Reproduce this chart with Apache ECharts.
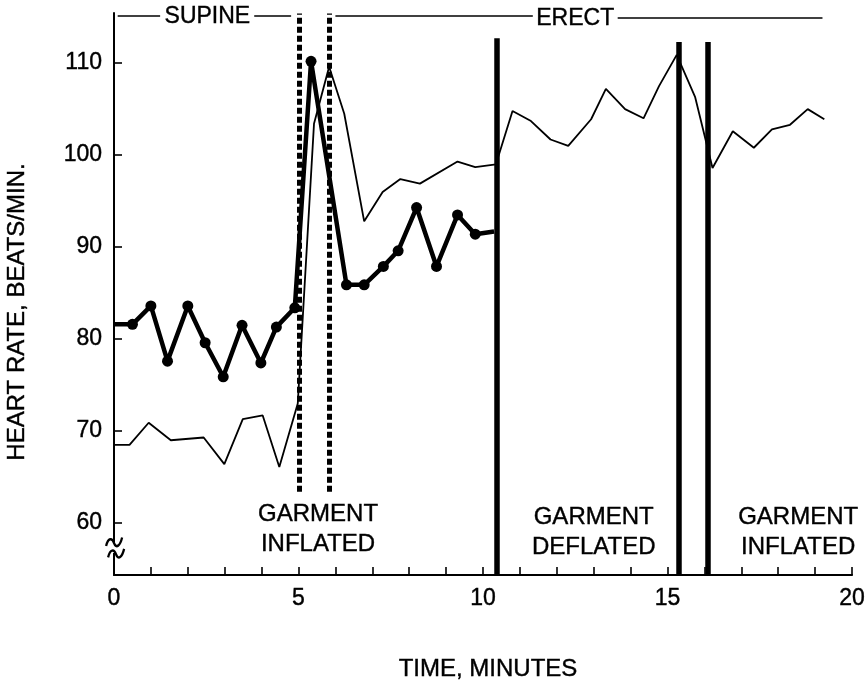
<!DOCTYPE html>
<html>
<head>
<meta charset="utf-8">
<script src="https://cdn.jsdelivr.net/npm/echarts@6/dist/echarts.min.js"></script>
<style>
  html, body { margin: 0; padding: 0; background: #fff; }
  #chart { width: 868px; height: 684px; }
</style>
</head>
<body>
<div id="chart"></div>
<script>
const FONT = '"Liberation Sans", Arial, Helvetica, sans-serif';

// Heavy line with dots: time (minutes) and heart rate (beats/min)
const heavyTimes = [0, 0.5, 1.0, 1.45, 2.0, 2.47, 2.96, 3.47, 3.98, 4.4, 4.9, 5.34,
                    6.3, 6.78, 7.3, 7.7, 8.2, 8.74, 9.31, 9.79, 10.3];
const heavyRates = [81.6, 81.6, 83.6, 77.6, 83.6, 79.6, 75.9, 81.5, 77.4, 81.3, 83.4, 110.2,
                    85.9, 85.9, 87.9, 89.6, 94.3, 87.9, 93.5, 91.4, 91.7];

// Thin line: time (minutes) and heart rate (beats/min)
const thinTimes = [0, 0.42, 0.94, 1.54, 2.43, 2.99, 3.49, 4.03, 4.48, 4.98, 5.42, 5.83,
                   6.24, 6.78, 7.28, 7.76, 8.29, 9.31, 9.79, 10.35, 10.8, 11.3, 11.83,
                   12.31, 12.93, 13.33, 13.85, 14.35, 14.77, 15.25, 15.75, 16.22, 16.77,
                   17.34, 17.83, 18.32, 18.8, 19.25];
const thinRates = [68.5, 68.5, 70.9, 69.0, 69.3, 66.4, 71.3, 71.7, 66.1, 73.0, 103.4, 109.6,
                   104.5, 92.8, 96.0, 97.4, 96.9, 99.3, 98.7, 99.0, 104.8, 103.7, 101.7,
                   101.0, 103.9, 107.2, 105.0, 104.0, 107.5, 110.9, 106.3, 98.6, 102.6,
                   100.8, 102.8, 103.3, 105.0, 103.9];

// Axis tick labels
const xTickLabels = [0, 5, 10, 15, 20];
const yTickLabels = [60, 70, 80, 90, 100, 110];

// Event times (minutes)
const inflationDashes = [5.02, 5.82];
const eventBars = [10.38, 15.30, 16.09];

// Annotation texts
const phaseNames = ['SUPINE', 'ERECT'];
const garmentNotes = ['GARMENT\nINFLATED', 'GARMENT\nDEFLATED', 'GARMENT\nINFLATED'];

const Y_MIN = 54.35, Y_MAX = 115.45;

const zip = (xs, ys) => xs.map((x, i) => [x, ys[i]]);

const heavyData = zip(heavyTimes, heavyRates).map((p, i, arr) =>
  (i === 0 || i === arr.length - 1) ? { value: p, symbol: 'none' } : { value: p });

const seg = (x1, y1, x2, y2, style) => [
  { coord: [x1, y1], lineStyle: style }, { coord: [x2, y2] }
];

const dashStyle = { color: '#000', width: 5, type: [6, 3] };
const barStyle = { color: '#000', width: 5.5, type: 'solid' };
const thinStyle = { color: '#000', width: 1.5, type: 'solid' };

const markLines = [
  seg(inflationDashes[0], 63.4, inflationDashes[0], 115.4, dashStyle),
  seg(inflationDashes[1], 63.4, inflationDashes[1], 115.4, dashStyle),
  seg(eventBars[0], Y_MIN, eventBars[0], 112.7, barStyle),
  seg(eventBars[1], Y_MIN, eventBars[1], 112.3, barStyle),
  seg(eventBars[2], Y_MIN, eventBars[2], 112.3, barStyle),
  // bracket across the top: supine / erect
  seg(0.1, 115.2, 1.25, 115.2, thinStyle),
  seg(3.8, 115.2, 4.8, 115.2, thinStyle),
  seg(6.0, 115.2, 11.35, 115.2, thinStyle),
  seg(13.65, 114.9, 19.2, 114.9, thinStyle)
];

// slight outline to give the lettering a print-like weight
const textLabel = (size) => ({
  show: true, position: 'inside', formatter: '{b}', color: '#000',
  fontFamily: FONT, fontSize: size, lineHeight: 30, align: 'center',
  textBorderColor: '#000', textBorderWidth: 0.4
});

const markPoints = [
  { name: phaseNames[0], coord: [2.53, 115.05], label: textLabel(23) },
  { name: phaseNames[1], coord: [12.5, 114.8], label: textLabel(23) },
  { name: garmentNotes[0], coord: [5.53, 59.3], label: textLabel(24) },
  { name: garmentNotes[1], coord: [13.0, 58.95], label: textLabel(24) },
  { name: garmentNotes[2], coord: [18.54, 58.95], label: textLabel(24) },
  // axis break mark
  { name: '', coord: [0.0, 57.34], symbol: 'rect', symbolSize: [8, 11],
    itemStyle: { color: '#fff', borderWidth: 0 }, label: { show: false } },
  { name: '', coord: [0.03, 57.34],
    symbol: 'path://M0,10 C2,4 6,4 8,8 C10,12 14,10 16,4 M2,18 C4,12 8,12 10,16 C12,20 16,18 18,12',
    symbolSize: [18, 20],
    itemStyle: { color: 'rgba(0,0,0,0)', borderColor: '#000', borderWidth: 2.4 },
    label: { show: false } }
];

const tickLabelStyle = {
  margin: 12, color: '#000', fontFamily: FONT, fontSize: 23,
  textBorderColor: '#000', textBorderWidth: 0.4
};

const chart = echarts.init(document.getElementById('chart'), null, { renderer: 'canvas' });

chart.setOption({
  animation: false,
  backgroundColor: '#fff',
  grid: { left: 114, right: 16, top: 13, bottom: 109, containLabel: false },
  xAxis: {
    type: 'value', min: 0, max: 20, interval: 1,
    axisLine: { lineStyle: { color: '#000', width: 2.2 } },
    axisTick: { inside: true, length: 8, lineStyle: { color: '#000', width: 1.6 } },
    axisLabel: Object.assign({ customValues: xTickLabels }, tickLabelStyle),
    splitLine: { show: false }
  },
  yAxis: {
    type: 'value', min: Y_MIN, max: Y_MAX,
    axisLine: { show: true, lineStyle: { color: '#000', width: 2 } },
    axisTick: { show: true, inside: true, length: 8, customValues: yTickLabels,
                lineStyle: { color: '#000', width: 1.6 } },
    axisLabel: Object.assign({ customValues: yTickLabels }, tickLabelStyle, { margin: 12 }),
    splitLine: { show: false }
  },
  graphic: [
    { type: 'text', x: 488, y: 669,
      style: { text: 'TIME, MINUTES', fill: '#000', font: '24px ' + FONT,
               stroke: '#000', lineWidth: 0.4,
               align: 'center', verticalAlign: 'middle' } },
    { type: 'text', x: 17, y: 312, rotation: Math.PI / 2,
      style: { text: 'HEART RATE, BEATS/MIN.', fill: '#000', font: '24px ' + FONT,
               stroke: '#000', lineWidth: 0.4,
               align: 'center', verticalAlign: 'middle' } }
  ],
  series: [
    {
      name: 'thin', type: 'line', z: 2, silent: true,
      data: zip(thinTimes, thinRates),
      symbol: 'none',
      lineStyle: { color: '#000', width: 1.8 }
    },
    {
      name: 'heavy', type: 'line', z: 3, silent: true,
      data: heavyData,
      symbol: 'circle', symbolSize: 11,
      itemStyle: { color: '#000' },
      lineStyle: { color: '#000', width: 4.5 }
    },
    {
      name: 'events', type: 'line', z: 4, silent: true,
      data: [],
      markLine: {
        silent: true, symbol: ['none', 'none'], animation: false,
        label: { show: false }, emphasis: { disabled: true },
        data: markLines
      },
      markPoint: {
        silent: true, symbol: 'circle', symbolSize: 0, animation: false,
        itemStyle: { color: 'rgba(0,0,0,0)' },
        emphasis: { disabled: true },
        data: markPoints
      }
    }
  ]
});
</script>
</body>
</html>
